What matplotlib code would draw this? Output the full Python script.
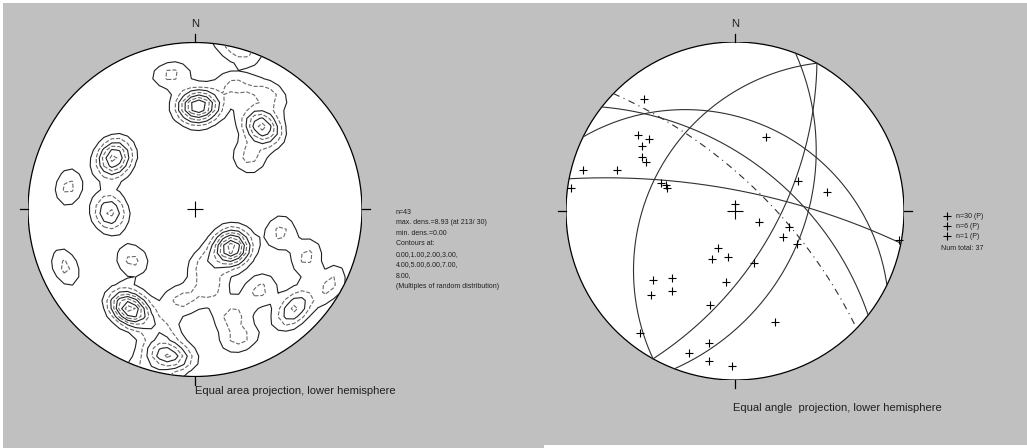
import numpy as np
import matplotlib.pyplot as plt
from matplotlib.patches import Circle, Rectangle
from matplotlib.lines import Line2D

plt.rcParams['font.family'] = ['Liberation Sans', 'DejaVu Sans']

W, H = 1027, 448
BG = '#c0c0c0'

# poles used for the density plot (trend / plunge, degrees)
pole_trend = [16, 190, 194, 188, 350, 359, 2, 1, 6, 18, 36, 40, 41, 46,
              300, 304, 303, 280, 266, 270, 246, 231, 133, 138, 135, 140,
              211, 214, 216, 212, 169, 105, 113, 133, 137, 161, 170, 33,
              196, 141, 189, 119, 161]
pole_plunge = [2, 14, 12, 10, 19, 39, 40, 37, 36, 23, 36, 38, 35, 53,
               42, 40, 44, 24, 49, 46, 16, 50, 64, 66, 62, 64,
               31, 30, 29, 28, 50, 46, 28, 18, 16, 33, 62, 19,
               26, 38, 44, 8, 19]
contour_levels = [1, 2, 3, 4, 5, 6, 7, 8]

# lineations for the equal angle plot
lin_trend = [321, 308, 310, 305, 300, 299, 285, 289, 278, 291, 291, 289,
             23, 65, 78, 0, 115, 106, 118, 118, 100, 205, 206, 189, 160,
             230, 223, 225, 218, 187, 195, 160, 218, 191, 198, 190, 181]
lin_plunge = [9, 18, 23, 22, 25, 28, 4, 17, 1, 40, 43, 44,
              39, 45, 32, 85, 72, 53, 54, 45, 1, 63, 55, 59, 54,
              25, 33, 20, 28, 44, 30, 20, 5, 13, 7, 6, 5]

# planes drawn as great circles (dip direction / dip)
plane_dipdir = [26, 299, 119, 111, 11, 38]
plane_dip = [34, 36, 62, 45, 76, 57]
dashed_dipdir = [44]
dashed_dip = [70]


def project(trend, plunge, kind):
    t = np.radians(np.asarray(trend, float))
    colat = np.radians(90.0 - np.asarray(plunge, float))
    if kind == 'area':
        r = np.sqrt(2) * np.sin(colat / 2)
    else:
        r = np.tan(colat / 2)
    return r * np.sin(t), r * np.cos(t)


def great_circle(dipdir, dip, kind):
    dd = np.radians(dipdir)
    d = np.radians(dip)
    s = dd - np.pi / 2
    strike_v = np.array([np.sin(s), np.cos(s), 0.0])
    dip_v = np.array([np.cos(d) * np.sin(dd), np.cos(d) * np.cos(dd), np.sin(d)])
    a = np.radians(np.linspace(0, 180, 181))
    v = np.outer(np.cos(a), strike_v) + np.outer(np.sin(a), dip_v)
    plunge = np.degrees(np.arcsin(np.clip(v[:, 2], -1, 1)))
    trend = np.degrees(np.arctan2(v[:, 0], v[:, 1]))
    return project(trend, plunge, kind)


def density_grid(trend, plunge, n=44, k=100.0):
    t = np.radians(trend)
    p = np.radians(plunge)
    pts = np.column_stack([np.cos(p) * np.sin(t), np.cos(p) * np.cos(t), np.sin(p)])
    g = np.linspace(-1.02, 1.02, n)
    X, Y = np.meshgrid(g, g)
    r = np.minimum(np.hypot(X, Y), 1.0)
    colat = 2 * np.arcsin(r / np.sqrt(2))
    az = np.arctan2(X, Y)
    nodes = np.stack([np.sin(colat) * np.sin(az), np.sin(colat) * np.cos(az),
                      np.cos(colat)], axis=-1)
    c = np.abs(nodes @ pts.T)
    dens = np.exp(k * (c - 1)).sum(axis=-1)
    # multiples of a uniform distribution
    dens /= len(trend) * (1 - np.exp(-k)) / k
    return X, Y, dens


def net_axes(fig, cx, cy, R):
    ax = fig.add_axes([(cx - R) / W, (H - cy - R) / H, 2 * R / W, 2 * R / H])
    ax.set_xlim(-1, 1)
    ax.set_ylim(-1, 1)
    ax.axis('off')
    rim = Circle((0, 0), 1, facecolor='white', edgecolor='black', lw=0.9, zorder=1)
    ax.add_patch(rim)
    tl = 0.05
    for x0, y0, x1, y1 in [(0, 1, 0, 1 + tl), (0, -1, 0, -1 - tl),
                           (-1, 0, -1 - tl, 0), (1, 0, 1 + tl, 0)]:
        ax.plot([x0, x1], [y0, y1], color='black', lw=0.9, clip_on=False)
    ax.plot(0, 0, marker='+', ms=11, mew=0.8, color='black', zorder=5)
    ax.text(0, (cy - 24) / R, 'N', ha='center', va='center',
            fontsize=8, color='#202020')
    return ax, rim


fig = plt.figure(figsize=(W / 100, H / 100), dpi=100, facecolor='white')
fig.add_artist(Rectangle((3 / W, 0), 1, (H - 3) / H, transform=fig.transFigure,
                         facecolor=BG, edgecolor='none', zorder=-10))
fig.add_artist(Rectangle((544 / W, 0), 1, 3 / H, transform=fig.transFigure,
                         facecolor='white', edgecolor='none', zorder=-9))

# equal area net with density contours
ax1, rim1 = net_axes(fig, 195, 209.5, 167)
X, Y, dens = density_grid(pole_trend, pole_plunge)
cs = ax1.contour(X, Y, dens, levels=contour_levels,
                 colors=['#202020', '#6a6a6a'] * 4,
                 linestyles=['solid', 'dashed'] * 4, linewidths=0.8, zorder=3)
cs.set_clip_path(rim1)

info = ['n=43', 'max. dens.=8.93 (at 213/ 30)', 'min. dens.=0.00', 'Contours at:',
        '0.00,1.00,2.00,3.00,', '4.00,5.00,6.00,7.00,', '8.00,',
        '(Multiples of random distribution)']
for i, line in enumerate(info):
    fig.text(396 / W, 1 - (212 + i * 10.6) / H, line, fontsize=5, va='center',
             color='#202020')
fig.text(195 / W, 1 - 391 / H, 'Equal area projection, lower hemisphere',
         fontsize=8, va='center', color='#202020')

# equal angle net with lineations and great circles
ax2, rim2 = net_axes(fig, 735, 211, 169)
for dd, dp in zip(plane_dipdir, plane_dip):
    gx, gy = great_circle(dd, dp, 'angle')
    ax2.plot(gx, gy, color='#303030', lw=0.8, zorder=3)
for dd, dp in zip(dashed_dipdir, dashed_dip):
    gx, gy = great_circle(dd, dp, 'angle')
    ax2.plot(gx, gy, color='#303030', lw=0.8, ls=(0, (6, 4, 1, 4)), zorder=3)
lx, ly = project(lin_trend, lin_plunge, 'angle')
ax2.plot(lx, ly, ls='none', marker='+', ms=6, mew=0.8, color='black', zorder=4)

legend_rows = ['n=30 (P)', 'n=6 (P)', 'n=1 (P)']
for i, line in enumerate(legend_rows):
    y = 1 - (216 + i * 10) / H
    fig.add_artist(Line2D([947 / W], [y], marker='+', ms=6, mew=0.8,
                          color='black', transform=fig.transFigure))
    fig.text(956 / W, y, line, fontsize=5, va='center', color='#202020')
fig.text(941 / W, 1 - 248 / H, 'Num total: 37', fontsize=5, va='center',
         color='#202020')
fig.text(733 / W, 1 - 408 / H, 'Equal angle  projection, lower hemisphere',
         fontsize=8, va='center', color='#202020')

fig.savefig('out.png', dpi=100, facecolor=fig.get_facecolor())
